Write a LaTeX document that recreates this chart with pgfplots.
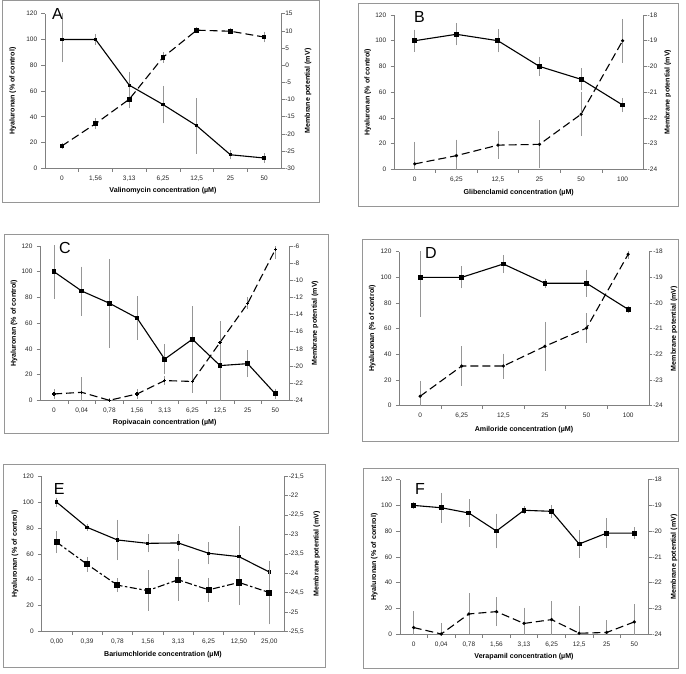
\documentclass[border=0pt]{standalone}
\usepackage{pgfplots}
\pgfplotsset{compat=1.18}
\usepackage{fontspec}
\setmainfont{Liberation Sans}
\definecolor{axgray}{RGB}{128,128,128}
\definecolor{errgray}{RGB}{150,150,150}
\definecolor{boxgray}{RGB}{150,150,150}
\pgfplotsset{
  common/.style={
    scale only axis, anchor=south west,
    xmin=-0.5,
    axis line style={draw=axgray, line width=0.6pt},
    tick align=outside,
    major tick length=0pt, minor tick length=3.5pt,
    tick style={draw=axgray, line width=0.6pt},
    tick label style={font=\fontsize{6.5}{7}\selectfont, text=black!85},
    /pgf/number format/assume math mode=true,
    /pgf/number format/use comma,
    clip=true,
  },
  leftax/.style={common,
    axis y line*=left, axis x line*=bottom,
    ymin=0, ymax=120, ytick={0,20,...,120}, minor ytick={0,20,...,120},
    yticklabel style={xshift=-4.3pt},
    xticklabel style={yshift=-4pt},
  },
  rightax/.style={common,
    axis y line*=right, axis x line=none,
    yticklabel style={xshift=0.8pt},
  },
  errs/.style={error bars/.cd, y dir=both, y explicit,
    error bar style={errgray, line width=0.6pt, solid},
    error mark options={errgray, line width=0.6pt, mark size=2pt, solid}},
  hya/.style={black, line width=1.1pt, mark=square*, mark size=1.9pt, mark options={solid}, errs},
  hyasmall/.style={black, line width=1.1pt, mark=square*, mark size=1.1pt, mark options={solid}, errs},
  mem/.style={black, line width=1.1pt, dash pattern=on 8pt off 4pt, mark=*, mark size=1pt, mark options={solid}, errs},
  memplus/.style={black, line width=1.1pt, dash pattern=on 8pt off 4pt, mark=+, mark size=1.6pt, mark options={solid}, errs},
  memsq/.style={black, line width=1.1pt, dash pattern=on 8pt off 4pt, mark=square*, mark size=1.8pt, mark options={solid}, errs},
  membig/.style={black, line width=1.1pt, dash pattern=on 7pt off 2.5pt on 2.5pt off 2.5pt, mark=square*, mark size=2.5pt, mark options={solid}, errs},
}
\newcommand{\lab}{\bfseries\fontsize{7.1}{8}\selectfont}
\newcommand{\letter}{\fontsize{16}{16}\selectfont}
\begin{document}
\begin{tikzpicture}
\path[use as bounding box] (0,0) rectangle (686pt,673pt);
% borders
\draw[boxgray, line width=0.6pt] (2.7pt,470.7pt) rectangle (319.3pt,672.5pt);
\draw[boxgray, line width=0.6pt] (358.3pt,466.3pt) rectangle (678.3pt,669.7pt);
\draw[boxgray, line width=0.6pt] (4pt,239.7pt) rectangle (328.3pt,439pt);
\draw[boxgray, line width=0.6pt] (362.3pt,232pt) rectangle (678.3pt,434pt);
\draw[boxgray, line width=0.6pt] (3pt,6pt) rectangle (325pt,209pt);
\draw[boxgray, line width=0.6pt] (363pt,5pt) rectangle (678.3pt,205pt);

% ================= A =================
\begin{axis}[leftax, at={(45pt,504.7pt)}, width=236pt, height=154.6pt,
  xmax=6.5, xtick={0,...,6}, minor xtick={0.5,1.5,...,5.5},
  xticklabels={0,{1,56},{3,13},{6,25},{12,5},25,50}]
\addplot[hyasmall] coordinates {(0,100) += (0,20) -= (0,16) (1,100) +- (0,2.5) (2,64.5) +- (0,9) (3,49.5) +- (0,13) (4,33) +- (0,20) (5,10.5) +- (0,2) (6,8) +- (0,2)};
\end{axis}
\begin{axis}[rightax, at={(45pt,504.7pt)}, width=236pt, height=154.6pt,
  xmax=6.5, ymin=-30, ymax=15, ytick={-30,-25,...,15}, minor ytick={-30,-25,...,15}]
\addplot[memsq] coordinates {(0,-23.5) +- (0,0.3) (1,-17) +- (0,1) (2,-9.9) +- (0,2) (3,2.3) +- (0,1) (4,10.2) +- (0,0.3) (5,9.9) +- (0,0.3) (6,8.2) +- (0,1)};
\end{axis}
\node[rotate=90, font=\lab] at (12.7pt,582pt) {Hyaluronan (\% of control)};
\node[rotate=90, font=\lab] at (308pt,582pt) {Membrane potential (mV)};
\node[font=\lab] at (163pt,482pt) {Valinomycin concentration (µM)};
\node[font=\letter, inner sep=0pt] at (57.5pt,658.8pt) {A};

% ================= B =================
\begin{axis}[leftax, at={(394pt,503.7pt)}, width=249.4pt, height=154.3pt,
  xmax=5.5, xtick={0,...,5}, minor xtick={0.5,1.5,...,4.5},
  xticklabels={0,{6,25},{12,5},25,50,100}]
\addplot[hya] coordinates {(0,100) +- (0,7) (1,105) +- (0,7) (2,100) +- (0,7.5) (3,80) +- (0,6) (4,70) +- (0,7) (5,50) +- (0,4)};
\end{axis}
\begin{axis}[rightax, at={(394pt,503.7pt)}, width=249.4pt, height=154.3pt,
  xmax=5.5, ymin=-24, ymax=-18, ytick={-24,...,-18}, minor ytick={-24,...,-18}]
\addplot[mem] coordinates {(0,-23.79) +- (0,0.78) (1,-23.47) +- (0,0.55) (2,-23.06) +- (0,0.46) (3,-23.03) +- (0,0.85) (4,-21.86) +- (0,0.77) (5,-19.0) +- (0,0.77)};
\end{axis}
\node[rotate=90, font=\lab] at (367.7pt,580.8pt) {Hyaluronan (\% of control)};
\node[rotate=90, font=\lab] at (667.7pt,580.8pt) {Membrane potential (mV)};
\node[font=\lab] at (518.7pt,480.3pt) {Glibenclamid concentration (µM)};
\node[font=\letter, inner sep=0pt] at (419.5pt,655.8pt) {B};

% ================= C =================
\begin{axis}[leftax, at={(40.2pt,272.7pt)}, width=249pt, height=154.3pt,
  xmax=8.5, xtick={0,...,8}, minor xtick={0.5,1.5,...,7.5},
  xticklabels={0,{0,04},{0,78},{1,56},{3,13},{6,25},{12,5},25,50}]
\addplot[hya] coordinates {(0,100) +- (0,19.5) (1,85) +- (0,17.5) (2,75.5) +- (0,33) (3,64) +- (0,15.5) (4,32) +- (0,10) (5,47.5) +- (0,24) (6,27) +- (0,33) (7,28.5) +- (0,9) (8,5) +- (0,2.5)};
\end{axis}
\begin{axis}[rightax, at={(40.2pt,272.7pt)}, width=249pt, height=154.3pt,
  xmax=8.5, ymin=-24, ymax=-6, ytick={-24,-22,...,-6}, minor ytick={-24,-22,...,-6}]
\addplot[memplus] coordinates {(0,-23.26) +- (0,0.3) (1,-23.07) +- (0,1.5) (2,-24) +- (0,0) (3,-23.26) +- (0,0.3) (4,-21.7) +- (0,0.25) (5,-21.8) +- (0,1.1) (6,-17.24) +- (0,1.1) (7,-12.7) +- (0,0.47) (8,-6.4) +- (0,0.9)};
\end{axis}
\node[rotate=90, font=\lab] at (14pt,349.8pt) {Hyaluronan (\% of control)};
\node[rotate=90, font=\lab] at (315pt,349.8pt) {Membrane potential (mV)};
\node[font=\lab] at (164.7pt,250.7pt) {Ropivacain concentration (µM)};
\node[font=\letter, inner sep=0pt] at (64.8pt,425.5pt) {C};

% ================= D =================
\begin{axis}[leftax, at={(399.3pt,267.5pt)}, width=249.7pt, height=153.8pt,
  xmax=5.5, xtick={0,...,5}, minor xtick={0.5,1.5,...,4.5},
  xticklabels={0,{6,25},{12,5},25,50,100}]
\addplot[hya] coordinates {(0,100) +- (0,29) (1,100) +- (0,7) (2,110.4) +- (0,5.5) (3,95.4) +- (0,2) (4,95.4) +- (0,9) (5,75) +- (0,1)};
\end{axis}
\begin{axis}[rightax, at={(399.3pt,267.5pt)}, width=249.7pt, height=153.8pt,
  xmax=5.5, ymin=-24, ymax=-18, ytick={-24,...,-18}, minor ytick={-24,...,-18}]
\addplot[mem] coordinates {(0,-23.64) +- (0,0.52) (1,-22.46) +- (0,0.7) (2,-22.46) +- (0,0.41) (3,-21.69) +- (0,0.87) (4,-20.98) +- (0,0.5) (5,-18.1) +- (0,0.1)};
\end{axis}
\node[rotate=90, font=\lab] at (372.3pt,344.4pt) {Hyaluronan (\% of control)};
\node[rotate=90, font=\lab] at (674pt,344.4pt) {Membrane potential (mV)};
\node[font=\lab] at (524pt,243.7pt) {Amiloride concentration (µM)};
\node[font=\letter, inner sep=0pt] at (430.8pt,420.5pt) {D};

% ================= E =================
\begin{axis}[leftax, at={(41.5pt,41.7pt)}, width=243pt, height=155pt,
  xmax=7.5, xtick={0,...,7}, minor xtick={0.5,1.5,...,6.5},
  xticklabels={{0,00},{0,39},{0,78},{1,56},{3,13},{6,25},{12,50},{25,00}}]
\addplot[hyasmall] coordinates {(0,100) +- (0,2) (1,80.5) +- (0,1) (2,70.7) +- (0,14) (3,68.1) +- (0,5.5) (4,68.4) +- (0,5) (5,60.4) +- (0,7) (6,57.8) +- (0,22) (7,45.9) +- (0,2.5)};
\end{axis}
\begin{axis}[rightax, at={(41.5pt,41.7pt)}, width=243pt, height=155pt,
  xmax=7.5, ymin=-25.5, ymax=-21.5, ytick={-25.5,-25,...,-21.5}, minor ytick={-25.5,-25,...,-21.5}]
\addplot[membig] coordinates {(0,-23.2) +- (0,0.23) (1,-23.77) +- (0,0.14) (2,-24.31) +- (0,0.13) (3,-24.45) +- (0,0.47) (4,-24.17) +- (0,0.49) (5,-24.43) +- (0,0.26) (6,-24.24) +- (0,0.53) (7,-24.5) +- (0,0.77)};
\end{axis}
\node[rotate=90, font=\lab] at (15pt,119.2pt) {Hyaluronan (\% of control)};
\node[rotate=90, font=\lab] at (316.7pt,119.2pt) {Membrane potential (mV)};
\node[font=\lab] at (163pt,18.7pt) {Bariumchloride concentration (µM)};
\node[font=\letter, inner sep=0pt] at (59.2pt,184.3pt) {E};

% ================= F =================
\begin{axis}[leftax, at={(399.9pt,39pt)}, width=248.2pt, height=154.3pt,
  xmax=8.5, xtick={0,...,8}, minor xtick={0.5,1.5,...,7.5},
  xticklabels={0,{0,04},{0,78},{1,56},{3,13},{6,25},{12,5},25,50}]
\addplot[hya] coordinates {(0,100) +- (0,1) (1,98.2) +- (0,10) (2,94.1) +- (0,9) (3,80.1) +- (0,12) (4,96.2) +- (0,1.5) (5,95.4) +- (0,3.5) (6,70) +- (0,9) (7,78.5) +- (0,10) (8,78.5) +- (0,3)};
\end{axis}
\begin{axis}[rightax, at={(399.9pt,39pt)}, width=248.2pt, height=154.3pt,
  xmax=8.5, ymin=-24, ymax=-18, ytick={-24,...,-18}, minor ytick={-24,...,-18}]
\addplot[mem] coordinates {(0,-23.75) +- (0,0.55) (1,-24) +- (0,0.35) (2,-23.22) +- (0,0.72) (3,-23.13) +- (0,0.49) (4,-23.59) +- (0,0.54) (5,-23.44) +- (0,0.64) (6,-23.97) +- (0,0.99) (7,-23.94) +- (0,0.4) (8,-23.53) +- (0,0.6)};
\end{axis}
\node[rotate=90, font=\lab] at (374.3pt,116.1pt) {Hyaluronan (\% of control)};
\node[rotate=90, font=\lab] at (674pt,116.1pt) {Membrane potential (mV)};
\node[font=\lab] at (524pt,16.3pt) {Verapamil concentration (µM)};
\node[font=\letter, inner sep=0pt] at (420pt,183.8pt) {F};
\end{tikzpicture}
\end{document}
